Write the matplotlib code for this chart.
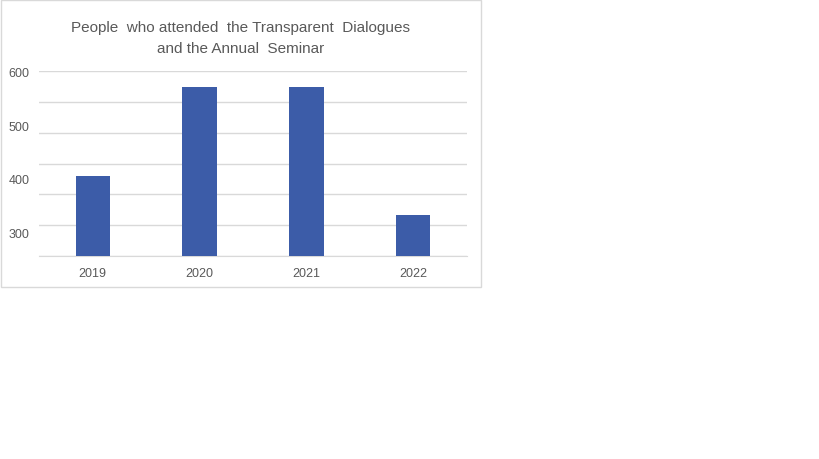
import numpy as np
import matplotlib.pyplot as plt
from matplotlib.patches import Rectangle

years = ["2019", "2020", "2021", "2022"]
attendees = [405, 570, 570, 332]
y_ticks = [300, 400, 500, 600]
title = "People  who attended  the Transparent  Dialogues\nand the Annual  Seminar"

bar_color = "#3C5CA8"
text_color = "#595959"
grid_color = "#D9D9D9"

plt.rcParams["font.family"] = ["Liberation Sans", "DejaVu Sans"]

fig = plt.figure(figsize=(8.19, 4.6), dpi=100)

# chart frame (the chart only fills the top-left part of the image)
fig.patches.append(Rectangle((1 / 819, 172 / 460), 480 / 819, 287 / 460,
                             transform=fig.transFigure, fill=False,
                             edgecolor=grid_color, linewidth=1))

ax = fig.add_axes([39.3 / 819, 203 / 460, 427.4 / 819, 185 / 460])
x = np.arange(len(years))
ax.bar(x, attendees, width=0.32, color=bar_color, zorder=3)

ax.set_xlim(-0.5, len(years) - 0.5)
ax.set_ylim(256, 600.6)
ax.set_xticks(x)
ax.set_xticklabels(years)
ax.set_yticks(y_ticks)

# horizontal gridlines are spaced independently of the labels
ax.yaxis.remove_overlapping_locs = False
ax.set_yticks(np.linspace(256, 600, 7), minor=True)
ax.yaxis.grid(True, which="minor", color=grid_color, linewidth=1, zorder=0)
ax.tick_params(axis="both", which="both", length=0, colors=text_color, labelsize=9)
ax.tick_params(axis="y", pad=7)
ax.tick_params(axis="x", pad=8)

for side in ["top", "right", "left"]:
    ax.spines[side].set_visible(False)
ax.spines["bottom"].set_color(grid_color)

fig.text(240.5 / 819, 1 - 38.5 / 460, title, ha="center", va="center",
         fontsize=11, color=text_color, linespacing=1.6)

fig.savefig("out.png", dpi=100)
